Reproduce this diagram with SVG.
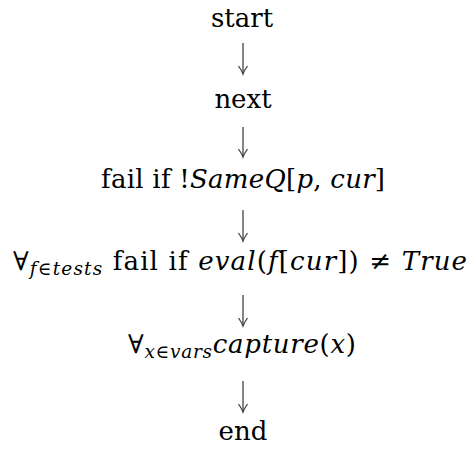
<svg xmlns="http://www.w3.org/2000/svg" width="476" height="452" viewBox="0 0 476 452">
  <defs>
    <style>
      .t { font-family: "DejaVu Serif", "Liberation Serif", serif; font-size: 26px; fill: #000; }
      .i { font-style: italic; }
      .sub { font-size: 18.5px; }
      .arrow { stroke: #444; stroke-width: 1.3; fill: none; marker-end: url(#head); }
    </style>
    <marker id="head" markerUnits="userSpaceOnUse" viewBox="-10 -6 12 12" refX="0" refY="0" markerWidth="12" markerHeight="12" orient="auto">
      <path d="M -8,-4.5 Q -3,-1 0,0 Q -3,1 -8,4.5" stroke="#444" stroke-width="1.3" fill="none"/>
    </marker>
  </defs>
  <rect width="476" height="452" fill="#fff"/>

  <!-- connectors between the steps -->
  <g id="connectors">
    <line class="arrow" x1="243" y1="43" x2="243" y2="74"/>
    <line class="arrow" x1="243" y1="127" x2="243" y2="157"/>
    <line class="arrow" x1="243" y1="210" x2="243" y2="241"/>
    <line class="arrow" x1="243" y1="295" x2="243" y2="326"/>
    <line class="arrow" x1="243" y1="381" x2="243" y2="412"/>
  </g>

  <g id="start">
    <text class="t" x="242" y="27" text-anchor="middle">start</text>
  </g>

  <g id="next">
    <text class="t" x="243" y="108" text-anchor="middle">next</text>
  </g>

  <g id="same-check">
    <text class="t" x="243" y="188" text-anchor="middle" textLength="284" lengthAdjust="spacing">fail if !<tspan class="i">SameQ</tspan>[<tspan class="i">p</tspan>, <tspan class="i">cur</tspan>]</text>
  </g>

  <g id="tests-check">
    <text class="t" x="240" y="270" text-anchor="middle" textLength="454" lengthAdjust="spacing">∀<tspan class="sub" dy="5"><tspan class="i">f</tspan>∈<tspan class="i">tests</tspan></tspan><tspan dy="-5"> fail if </tspan><tspan class="i">eval</tspan>(<tspan class="i">f</tspan>[<tspan class="i">cur</tspan>]) ≠ <tspan class="i">True</tspan></text>
  </g>

  <g id="capture">
    <text class="t" x="242" y="353" text-anchor="middle" textLength="228" lengthAdjust="spacing">∀<tspan class="sub" dy="5"><tspan class="i">x</tspan>∈<tspan class="i">vars</tspan></tspan><tspan class="i" dy="-5">capture</tspan>(<tspan class="i">x</tspan>)</text>
  </g>

  <g id="end">
    <text class="t" x="243" y="440" text-anchor="middle">end</text>
  </g>
</svg>
